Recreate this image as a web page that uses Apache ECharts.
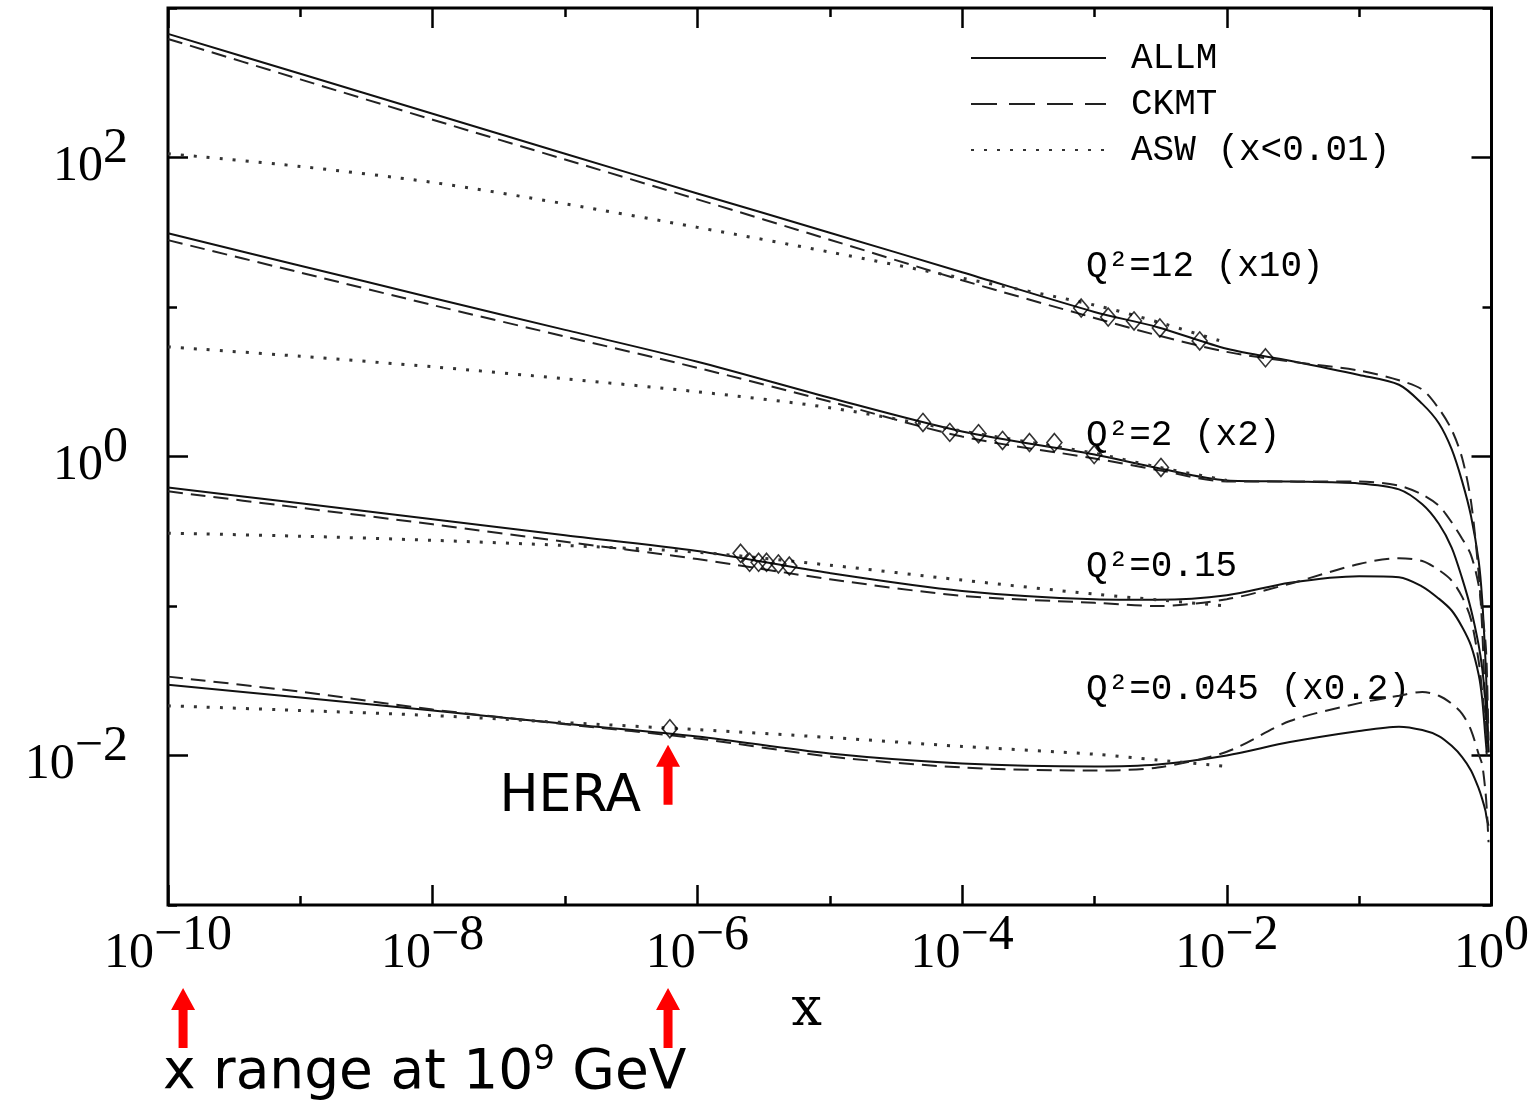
<!DOCTYPE html>
<html><head><meta charset="utf-8">
<script src="https://cdn.jsdelivr.net/npm/echarts@6/dist/echarts.min.js"></script>
<style>html,body{margin:0;padding:0;background:#fff}#c{width:1532px;height:1105px}</style>
</head><body><div id="c"></div>
<script>
// ---------- data ----------
const xGrid = [1e-10,1e-9,1e-8,1e-7,1e-6,1e-5,1e-4,1e-3,3e-3,1e-2,3e-2,0.1,0.2,0.3,0.4,0.5,0.6,0.7,0.8,0.85,0.9,0.92,0.95];

const allm12   = [671,363,196,106,57.5,31.4,17.1,9.27,7.33,5.25,4.37,3.51,3.02,2.25,1.67,1.12,0.682,0.400,0.200,0.111,0.0437,0.0263,0.0105];
const ckmt12   = [621,333,179,97.0,52.5,28.2,15.1,8.45,6.46,5.01,4.32,3.76,3.24,2.80,2.09,1.51,0.977,0.501,0.165,0.0716,0.0186,0.0100,null];
const asw12    = [106,87.1,68.1,49.0,34.1,23.3,15.6,10.3,7.94,5.75];

const allm2    = [31.1,18.9,11.5,7.03,4.30,2.47,1.47,1.03,0.838,0.692,0.681,0.661,0.603,0.479,0.355,0.246,0.153,0.0948,0.0547,0.0384,0.0233,0.0174,0.0105];
const ckmt2    = [28.0,17.0,10.3,6.35,3.92,2.33,1.36,0.970,0.813,0.681,0.681,0.681,0.638,0.556,0.468,0.363,0.282,0.219,0.138,0.0912,0.0575,0.0398,0.0126];
const asw2     = [5.41,4.68,3.98,3.31,2.71,2.12,1.48,1.05,0.851,0.692];

const allm015  = [0.621,0.486,0.380,0.297,0.233,0.166,0.126,0.111,0.110,0.118,0.143,0.158,0.156,0.135,0.112,0.0933,0.0724,0.0543,0.0347,0.0240,0.0132,0.0105,null];
const ckmt015  = [0.585,0.454,0.352,0.269,0.206,0.151,0.117,0.105,0.100,0.111,0.141,0.191,0.209,0.200,0.174,0.148,0.115,0.0813,0.0427,0.0269,0.0162,0.0117,null];
const asw015   = [0.307,0.293,0.275,0.254,0.229,0.1875,0.149,0.120,0.110,0.100];

const allm0045 = [0.0297,0.0244,0.0200,0.0163,0.0134,0.0103,0.00885,0.00845,0.00871,0.0100,0.0123,0.0146,0.0156,0.0148,0.0135,0.0116,0.00977,0.00794,0.00603,0.00513,0.00427,0.0038,0.00339];
const ckmt0045 = [0.0337,0.0267,0.0203,0.0162,0.0130,0.00984,0.00832,0.00794,0.00832,0.0106,0.0170,0.0224,0.0251,0.0266,0.0251,0.0222,0.0190,0.0148,0.0102,0.0087,0.00575,0.00447,0.00263];
const asw0045  = [0.0215,0.0200,0.0185,0.0166,0.0149,0.0132,0.0115,0.0102,0.00933,0.00845];

// measured points (diamonds)
const pts12X   = [7.94e-4,1.27e-3,1.99e-3,3.12e-3,6.24e-3,0.0196];
const pts12Y   = [9.84,8.57,8.07,7.24,5.93,4.57];
const pts2X    = [5.06e-5,8.07e-5,1.33e-4,2.02e-4,3.23e-4,4.98e-4,9.95e-4,3.18e-3];
const pts2Y    = [1.69,1.45,1.42,1.28,1.24,1.24,1.03,0.845];
const pts015X  = [2.12e-6,2.48e-6,2.90e-6,3.33e-6,4.09e-6,4.95e-6];
const pts015Y  = [0.225,0.196,0.196,0.196,0.191,0.185];
const pts0045X = [6.19e-7];
const pts0045Y = [0.0151];

// texts and ticks
const modelNames  = ['ALLM','CKMT','ASW (x<0.01)'];
const curveLabels = ['Q\u00b2=12 (x10)','Q\u00b2=2 (x2)','Q\u00b2=0.15','Q\u00b2=0.045 (x0.2)'];
const xMajorExp = [-10,-8,-6,-4,-2,0];
const xMinorExp = [-9,-7,-5,-3,-1];
const yMajorExp = [-2,0,2];
const yMinorExp = [-3,-1,1,3];
const heraX = 6.0e-7, heraTipY = 0.0118;
const rangeArrowX = [1.3e-10, 6.0e-7];
const heraText = 'HERA';
const rangeText = ['x range at 10','9',' GeV'];

// ---------- chart ----------
const chart = echarts.init(document.getElementById('c'));
function zip(xs, ys){ const out=[]; ys.forEach((y,i)=>{ if(y!=null) out.push([xs[i],y]); }); return out; }

const styles = {
  ALLM: {color:'#111', width:2, type:'solid'},
  CKMT: {color:'#222', width:2, type:[15,8]},
  ASW:  {color:'#333', width:3, type:[3,10], cap:'butt'}
};
const series = [];
function addLine(name, ys, st){
  series.push({type:'line', name, data: zip(xGrid, ys), xAxisIndex:0, yAxisIndex:0,
    symbol:'none', showSymbol:false, smooth:0.3, silent:true,
    lineStyle: st, z:3});
}
[[allm12,ckmt12,asw12],[allm2,ckmt2,asw2],[allm015,ckmt015,asw015],[allm0045,ckmt0045,asw0045]].forEach(g=>{
  addLine(modelNames[0], g[0], styles.ALLM);
  addLine(modelNames[1], g[1], styles.CKMT);
  addLine(modelNames[2], g[2], styles.ASW);
});
[[pts12X,pts12Y],[pts2X,pts2Y],[pts015X,pts015Y],[pts0045X,pts0045Y]].forEach(p=>{
  series.push({type:'scatter', name:'data', data: zip(p[0], p[1]), xAxisIndex:0, yAxisIndex:0,
    symbol:'diamond', symbolSize:[15,18], silent:true, z:5,
    itemStyle:{color:'rgba(255,255,255,0)', borderColor:'#000', borderWidth:1.6}});
});

function expLabel(v){ const e=Math.round(v); return '{b|10}{s|'+(e<0?'\u2212'+(-e):String(e))+'}'; }
const rich = {
  b:{fontFamily:'Liberation Serif', fontSize:50, lineHeight:68, verticalAlign:'bottom', color:'#000'},
  s:{fontFamily:'Liberation Serif', fontSize:50, lineHeight:50, verticalAlign:'top', color:'#000'}
};
const tickLine = {color:'#000', width:2.5};
function valAxis(pos, min, max, vals, len, labels, extra){
  return Object.assign({type:'value', position:pos, min, max,
    axisLine:{show:false, onZero:false}, splitLine:{show:false},
    axisTick:{show:true, inside:true, length:len, lineStyle:tickLine, customValues: vals},
    axisLabel: labels ? Object.assign({show:true, customValues: vals, formatter: expLabel, rich}, labels) : {show:false}
  }, extra||{});
}

const option = {
  animation:false,
  backgroundColor:'#fff',
  grid:{left:168, right:35, top:8, bottom:200, show:true, borderColor:'#000', borderWidth:3, backgroundColor:'rgba(0,0,0,0)'},
  legend:{
    selectedMode:false, orient:'vertical', left:965, top:33,
    itemWidth:135, itemHeight:1, itemGap:6,
    itemStyle:{opacity:0},
    data:[{name:modelNames[0]},{name:modelNames[1], lineStyle:{type:[26,12]}},{name:modelNames[2], lineStyle:{type:[3,10]}}],
    textStyle:{fontFamily:'Liberation Mono', fontSize:36, color:'#000', lineHeight:40, padding:[0,0,0,20]}
  },
  xAxis:[
    {type:'log', logBase:10, min:1e-10, max:1, show:false},
    valAxis('bottom', -10, 0, xMajorExp, 20, {margin:6},
      {name:'x', nameLocation:'middle', nameGap:62,
       nameTextStyle:{fontFamily:'DejaVu Serif', fontSize:54, color:'#000', padding:[0,46,0,0]}}),
    valAxis('bottom', -10, 0, xMinorExp, 9, null),
    valAxis('top', -10, 0, xMajorExp, 20, null),
    valAxis('top', -10, 0, xMinorExp, 9, null)
  ],
  yAxis:[
    {type:'log', logBase:10, min:1e-3, max:1e3, show:false},
    valAxis('left', -3, 3, yMajorExp, 20, {margin:40}),
    valAxis('left', -3, 3, yMinorExp, 9, null),
    valAxis('right', -3, 3, yMajorExp, 20, null),
    valAxis('right', -3, 3, yMinorExp, 9, null)
  ],
  series
};
chart.setOption(option);

// ---------- annotations ----------
const labelY = [268, 437, 568, 691];
const g = [];
curveLabels.forEach((t,i)=>{
  g.push({type:'text', left:1086, top:labelY[i]-20, silent:true,
    style:{text:t, font:'36px "Liberation Mono"', fill:'#000'}});
});
function arrow(x, tip, len){
  const hw=12, sw=4.5, hh=22;
  return {type:'polygon', silent:true, z:10, shape:{points:[[x-sw,tip+len],[x-sw,tip+hh],[x-hw,tip+hh],[x,tip],[x+hw,tip+hh],[x+sw,tip+hh],[x+sw,tip+len]]},
    style:{fill:'#ff0000'}};
}
const hx = chart.convertToPixel({xAxisIndex:0}, heraX);
const hy = chart.convertToPixel({yAxisIndex:0}, heraTipY);
g.push(arrow(hx, hy, 60));
g.push({type:'text', silent:true, z:10, style:{text:heraText, x:hx-27, y:hy+53, align:'right', verticalAlign:'middle',
  font:'52px "DejaVu Sans"', fill:'#000'}});
const axisBottom = chart.convertToPixel({yAxisIndex:0}, 1e-3);
rangeArrowX.forEach(v=>{ g.push(arrow(chart.convertToPixel({xAxisIndex:0}, v), axisBottom+83, 60)); });
g.push({type:'text', silent:true, z:10, style:{
  text:'{a|'+rangeText[0]+'}{s|'+rangeText[1]+'}{a|'+rangeText[2]+'}', x:163, y:axisBottom+167, verticalAlign:'middle',
  rich:{a:{font:'55px "DejaVu Sans"', fill:'#000', lineHeight:58, verticalAlign:'bottom'},
        s:{font:'34px "DejaVu Sans"', fill:'#000', lineHeight:34, verticalAlign:'top'}}}});
chart.setOption({graphic: g});
</script></body></html>
